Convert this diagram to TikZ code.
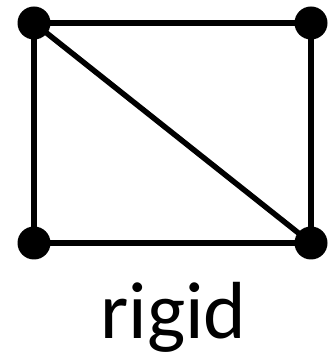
\documentclass[tikz,border=0pt]{standalone}
\usepackage{fontspec}
\setmainfont{Carlito}
\usetikzlibrary{positioning}

\begin{document}
\begin{tikzpicture}[
    x=1pt, y=1pt,
    vertex/.style={circle, fill=black, inner sep=0pt, minimum size=33pt},
    edge/.style={line width=5.5pt},
    caption/.style={anchor=base, inner sep=0pt, font=\fontsize{81}{81}\selectfont},
]
\useasboundingbox (0,0) rectangle (331,361);

% Vertices
\node [vertex] (tl) at (34,338) {};
\node [vertex] (tr) at (311,338) {};
\node [vertex] (bl) at (34,118) {};
\node [vertex] (br) at (311,118) {};

% Edges
\draw [edge] (tl.center) -- (tr.center) -- (br.center) -- (bl.center) -- cycle;
\draw [edge] (tl.center) -- (br.center);

% Label
\node [caption] (label) at (173.5,22) {rigid};

\end{tikzpicture}
\end{document}
